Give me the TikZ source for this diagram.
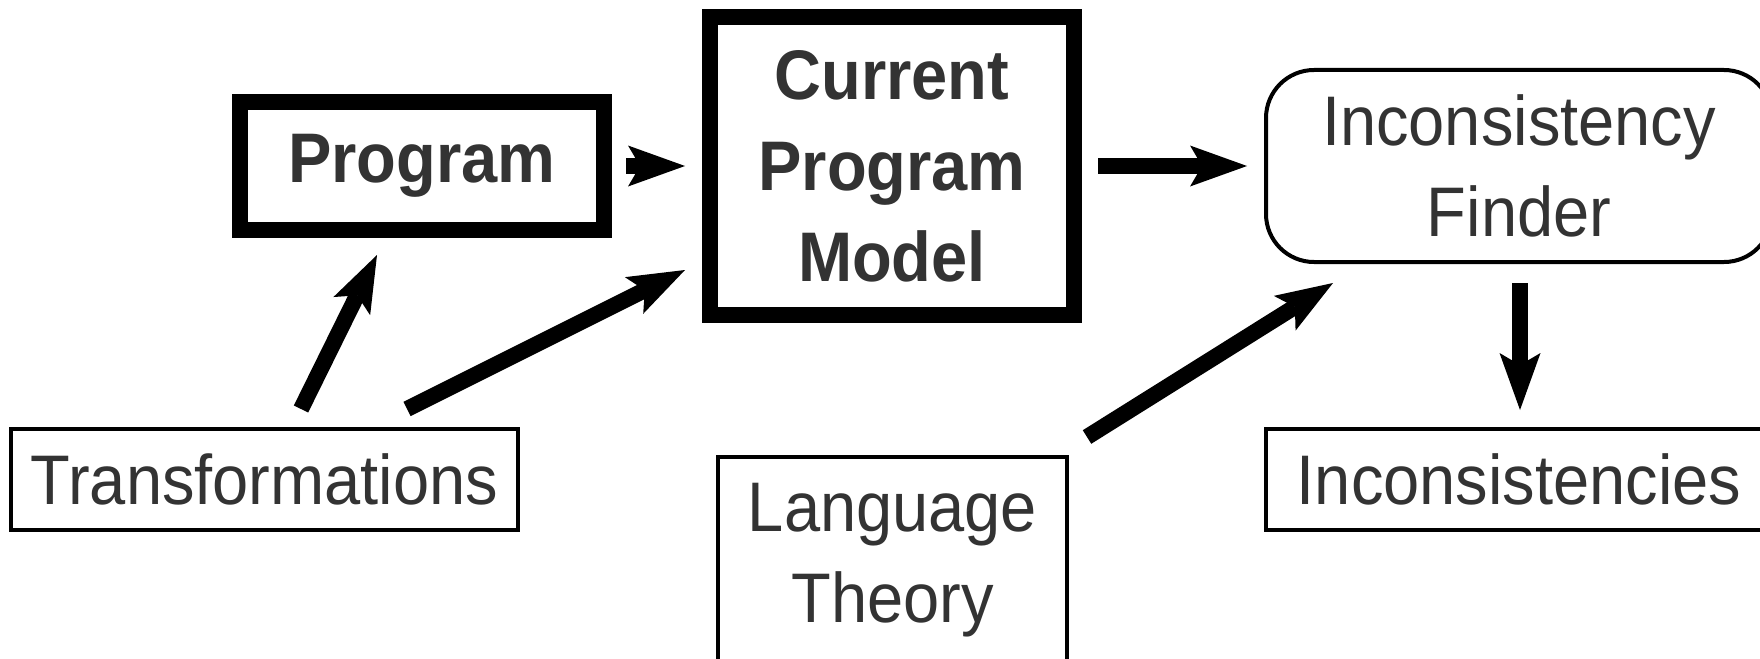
\documentclass[tikz,border=0pt]{standalone}
\usepackage{graphicx}
\usepackage{fontspec}
\setmainfont{Liberation Sans}
\usetikzlibrary{arrows.meta}
\definecolor{txt}{HTML}{333333}
\newcommand\vstretch[1]{\scalebox{1}[1.08]{#1}}
\begin{document}
\begin{tikzpicture}[x=1pt,y=-1pt,
  every node/.style={text=txt, font=\fontsize{65}{91}\selectfont, align=center, inner sep=0pt},
  thickbox/.style={draw=black, line width=16pt, font=\fontsize{65}{91}\selectfont\bfseries},
  thinbox/.style={draw=black, line width=4pt},
  flow/.style={line width=16pt, -{Stealth[length=57pt, width=41pt, inset=12pt, line width=0pt]}}
]
\useasboundingbox (0,0) rectangle (1760,658);
\clip (0,0) rectangle (1760,658);
% boxes
\node[thickbox, minimum width=364pt, minimum height=128pt] (prog) at (422,166) {\vstretch{Program}};
\node[thickbox, minimum width=364pt, minimum height=298pt] (cpm) at (892,166) {\vstretch{Current}\\\vstretch{Program}\\\vstretch{Model}};
\node[thinbox, rounded corners=48pt, minimum width=506pt, minimum height=192pt] (finder) at (1519,166) {\vstretch{Inconsistency}\\\vstretch{Finder}};
\node[thinbox, minimum width=506pt, minimum height=101pt] (incs) at (1519,479.5) {\vstretch{Inconsistencies}};
\node[thinbox, minimum width=507pt, minimum height=101pt] (trans) at (264.5,479.5) {\vstretch{Transformations}};
\node[thinbox, minimum width=349pt, anchor=north, inner ysep=26pt] (lt) at (892.5,455) {\vstretch{Language}\\\vstretch{Theory}};
% arrow end points
\coordinate (a1s) at (626,166);  \coordinate (a1e) at (685,166);
\coordinate (a2s) at (1098,166); \coordinate (a2e) at (1247,166);
\coordinate (a3s) at (301,409);  \coordinate (a3e) at (377,255);
\coordinate (a4s) at (407,409);  \coordinate (a4e) at (685,270);
\coordinate (a5s) at (1087,437); \coordinate (a5e) at (1333,283);
\coordinate (a6s) at (1520,283); \coordinate (a6e) at (1520,410);
% connectors
\draw[flow] (a1s) -- (a1e);
\draw[flow] (a2s) -- (a2e);
\draw[flow] (a3s) -- (a3e);
\draw[flow] (a4s) -- (a4e);
\draw[flow] (a5s) -- (a5e);
\draw[flow] (a6s) -- (a6e);
\end{tikzpicture}
\end{document}
